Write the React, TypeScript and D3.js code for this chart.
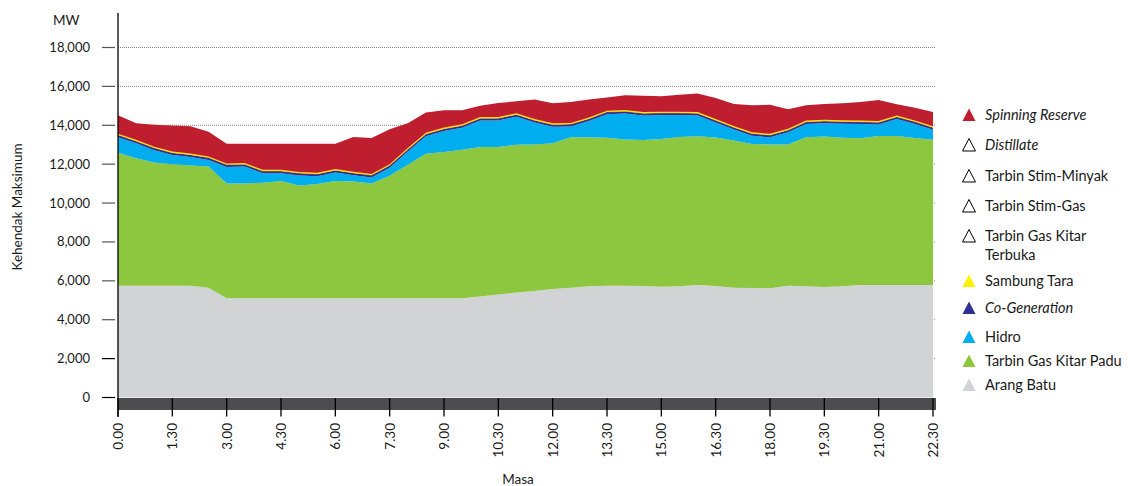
import * as d3 from "d3";

// half-hourly periods
const times = [
  "0.00", "0.30", "1.00", "1.30", "2.00", "2.30", "3.00", "3.30", "4.00", "4.30",
  "5.00", "5.30", "6.00", "6.30", "7.00", "7.30", "8.00", "8.30", "9.00", "9.30",
  "10.00", "10.30", "11.00", "11.30", "12.00", "12.30", "13.00", "13.30", "14.00", "14.30",
  "15.00", "15.30", "16.00", "16.30", "17.00", "17.30", "18.00", "18.30", "19.00", "19.30",
  "20.00", "20.30", "21.00", "21.30", "22.00", "22.30",
];

const xTickLabels = [
  "0.00", "1.30", "3.00", "4.30", "6.00", "7.30", "9.00", "10.30",
  "12.00", "13.30", "15.00", "16.30", "18.00", "19.30", "21.00", "22.30",
];

const yTickValues = [0, 2000, 4000, 6000, 8000, 10000, 12000, 14000, 16000, 18000];

// MW by source
const arangBatu = [
  5750, 5750, 5750, 5750, 5750, 5650, 5100, 5100, 5100, 5100,
  5100, 5100, 5100, 5100, 5100, 5100, 5100, 5100, 5100, 5100,
  5200, 5300, 5400, 5480, 5580, 5650, 5720, 5750, 5750, 5730,
  5700, 5720, 5780, 5730, 5640, 5630, 5620, 5750, 5720, 5680,
  5720, 5780, 5780, 5780, 5780, 5780,
];
const kitarPadu = [
  6840, 6550, 6330, 6250, 6185, 6230, 5905, 5910, 5940, 6030,
  5800, 5880, 6030, 6010, 5900, 6300, 6870, 7430, 7520, 7640,
  7680, 7580, 7600, 7535, 7500, 7730, 7660, 7610, 7520, 7510,
  7590, 7680, 7660, 7640, 7580, 7410, 7395, 7265, 7670, 7740,
  7640, 7550, 7665, 7665, 7570, 7480,
];
const hidro = [
  800, 770, 640, 470, 435, 340, 855, 870, 490, 400,
  520, 400, 440, 320, 320, 420, 680, 900, 1080, 1130,
  1360, 1365, 1440, 1125, 840, 560, 840, 1210, 1330, 1260,
  1230, 1120, 1060, 770, 560, 420, 365, 625, 670, 680,
  720, 730, 595, 875, 720, 510,
];
const coGeneration = [
  120, 120, 120, 120, 120, 120, 120, 120, 120, 120,
  120, 120, 120, 120, 120, 120, 120, 120, 120, 120,
  120, 120, 120, 120, 120, 120, 120, 120, 120, 120,
  120, 120, 120, 120, 120, 120, 120, 120, 120, 120,
  120, 120, 120, 120, 120, 120,
];
const sambungTara = [
  60, 60, 60, 60, 60, 60, 60, 60, 60, 60,
  60, 60, 60, 60, 60, 60, 60, 60, 60, 60,
  60, 60, 60, 60, 60, 60, 60, 60, 60, 60,
  60, 60, 60, 60, 60, 60, 60, 60, 60, 60,
  60, 60, 60, 60, 60, 60,
];
const zeros = times.map(() => 0);
const kitarTerbuka = zeros;
const stimGas = zeros;
const stimMinyak = zeros;
const distillate = zeros;
const spinningReserve = [
  940, 850, 1130, 1340, 1400, 1265, 1010, 990, 1340, 1340,
  1450, 1490, 1300, 1790, 1840, 1800, 1270, 1050, 890, 720,
  580, 725, 610, 1010, 1030, 1080, 930, 680, 770, 840,
  790, 870, 960, 1080, 1140, 1385, 1500, 1010, 790, 820,
  870, 960, 1080, 580, 650, 730,
];

// bottom to top
const seriesKeys = [
  "Arang Batu",
  "Tarbin Gas Kitar Padu",
  "Hidro",
  "Co-Generation",
  "Sambung Tara",
  "Tarbin Gas Kitar Terbuka",
  "Tarbin Stim-Gas",
  "Tarbin Stim-Minyak",
  "Distillate",
  "Spinning Reserve",
];
const seriesValues = [
  arangBatu, kitarPadu, hidro, coGeneration, sambungTara,
  kitarTerbuka, stimGas, stimMinyak, distillate, spinningReserve,
];
const seriesColors = [
  "#d1d3d4", "#8dc63f", "#00aeef", "#2e3192", "#fff200",
  "#ffffff", "#ffffff", "#ffffff", "#ffffff", "#be1e2d",
];

// legend, top to bottom
const legendItems = [
  { label: ["Spinning Reserve"], color: "#be1e2d", italic: true },
  { label: ["Distillate"], color: "none", italic: true },
  { label: ["Tarbin Stim-Minyak"], color: "none", italic: false },
  { label: ["Tarbin Stim-Gas"], color: "none", italic: false },
  { label: ["Tarbin Gas Kitar", "Terbuka"], color: "none", italic: false },
  { label: ["Sambung Tara"], color: "#fff200", italic: false },
  { label: ["Co-Generation"], color: "#2e3192", italic: true },
  { label: ["Hidro"], color: "#00aeef", italic: false },
  { label: ["Tarbin Gas Kitar Padu"], color: "#8dc63f", italic: false },
  { label: ["Arang Batu"], color: "#d1d3d4", italic: false },
];
const legendRowY = [115, 145, 176, 206, 236, 281, 308, 337, 361, 385];

const W = 1128;
const H = 486;
const left = 118;
const right = 936;
const FONT = "Lato, 'Open Sans', sans-serif";

export default function App() {
  const rows = times.map((t, i) => {
    const r: Record<string, number | string> = { time: t };
    seriesKeys.forEach((k, j) => (r[k] = seriesValues[j][i]));
    return r;
  });

  const x = d3.scalePoint<string>().domain(times).range([left, 933]);
  const y = d3.scaleLinear().domain([0, 18000]).range([397.5, 47.5]);

  const stacked = d3.stack<Record<string, number | string>>().keys(seriesKeys)(rows);
  const area = d3
    .area<d3.SeriesPoint<Record<string, number | string>>>()
    .x((d) => x(d.data.time as string) ?? 0)
    .y0((d) => y(d[0]))
    .y1((d) => y(d[1]));

  const fmt = d3.format(",");

  return (
    <div style={{ position: "absolute", left: 0, top: 0 }}>
      <svg width={W} height={H} style={{ fontFamily: FONT, display: "block" }}>
        <rect width={W} height={H} fill="#fff" />

        {/* grid */}
        {yTickValues.filter((v) => v > 0).map((v) => (
          <line key={"g" + v} x1={left} x2={right} y1={y(v)} y2={y(v)}
            stroke="#666" strokeWidth={0.8} strokeDasharray="1,1" />
        ))}

        {/* stacked areas */}
        {stacked.map((s, i) => (
          <path key={s.key} d={area(s) ?? ""} fill={seriesColors[i]}
            stroke={s.key === "Sambung Tara" ? "#f5c400" : "none"} strokeWidth={0.6} />
        ))}

        {/* dark base band */}
        <rect x={left} y={398} width={right - left} height={12} fill="#4d4d4f" />
        {xTickLabels.map((t) => (
          <g key={t} transform={`translate(${x(t)},0)`}>
            <line y1={398} y2={416.5} stroke="#000" strokeWidth={1.3} />
            <text transform="translate(5,423) rotate(-90)" textAnchor="end"
              fontSize={13.5} fill="#1a1a1a">{t}</text>
          </g>
        ))}

        {/* y axis */}
        <line x1={left} x2={left} y1={13} y2={417} stroke="#000" strokeWidth={1.3} />
        {yTickValues.map((v) => (
          <g key={v}>
            <line x1={102} x2={115} y1={y(v)} y2={y(v)}
              stroke={v >= 4000 ? "#555" : "#000"} strokeWidth={1.2} />
            <text x={90} y={y(v)} dy="0.35em" textAnchor="end" fontSize={13}
              fill="#1a1a1a">{fmt(v)}</text>
          </g>
        ))}
        <text x={53} y={25} fontSize={13.5} fill="#1a1a1a">MW</text>
        <text transform="translate(22,207) rotate(-90)" textAnchor="middle"
          fontSize={13.5} fill="#1a1a1a">Kehendak Maksimum</text>
        <text x={518} y={484} textAnchor="middle" fontSize={13.5} fill="#1a1a1a">Masa</text>

        {/* legend */}
        {legendItems.map((it, i) => {
          const cy = legendRowY[i];
          const tri = `M969,${cy - 6.5} L975.5,${cy + 6} L962.5,${cy + 6} Z`;
          return (
            <g key={it.label[0]}>
              <path d={tri} fill={it.color === "none" ? "#fff" : it.color}
                stroke={it.color === "none" ? "#000" : "none"} strokeWidth={1} />
              {it.label.map((l, k) => (
                <text key={l} x={985} y={cy + 5 + k * 19} fontSize={14.5}
                  fontStyle={it.italic ? "italic" : "normal"} fill="#1a1a1a">{l}</text>
              ))}
            </g>
          );
        })}
      </svg>
    </div>
  );
}
